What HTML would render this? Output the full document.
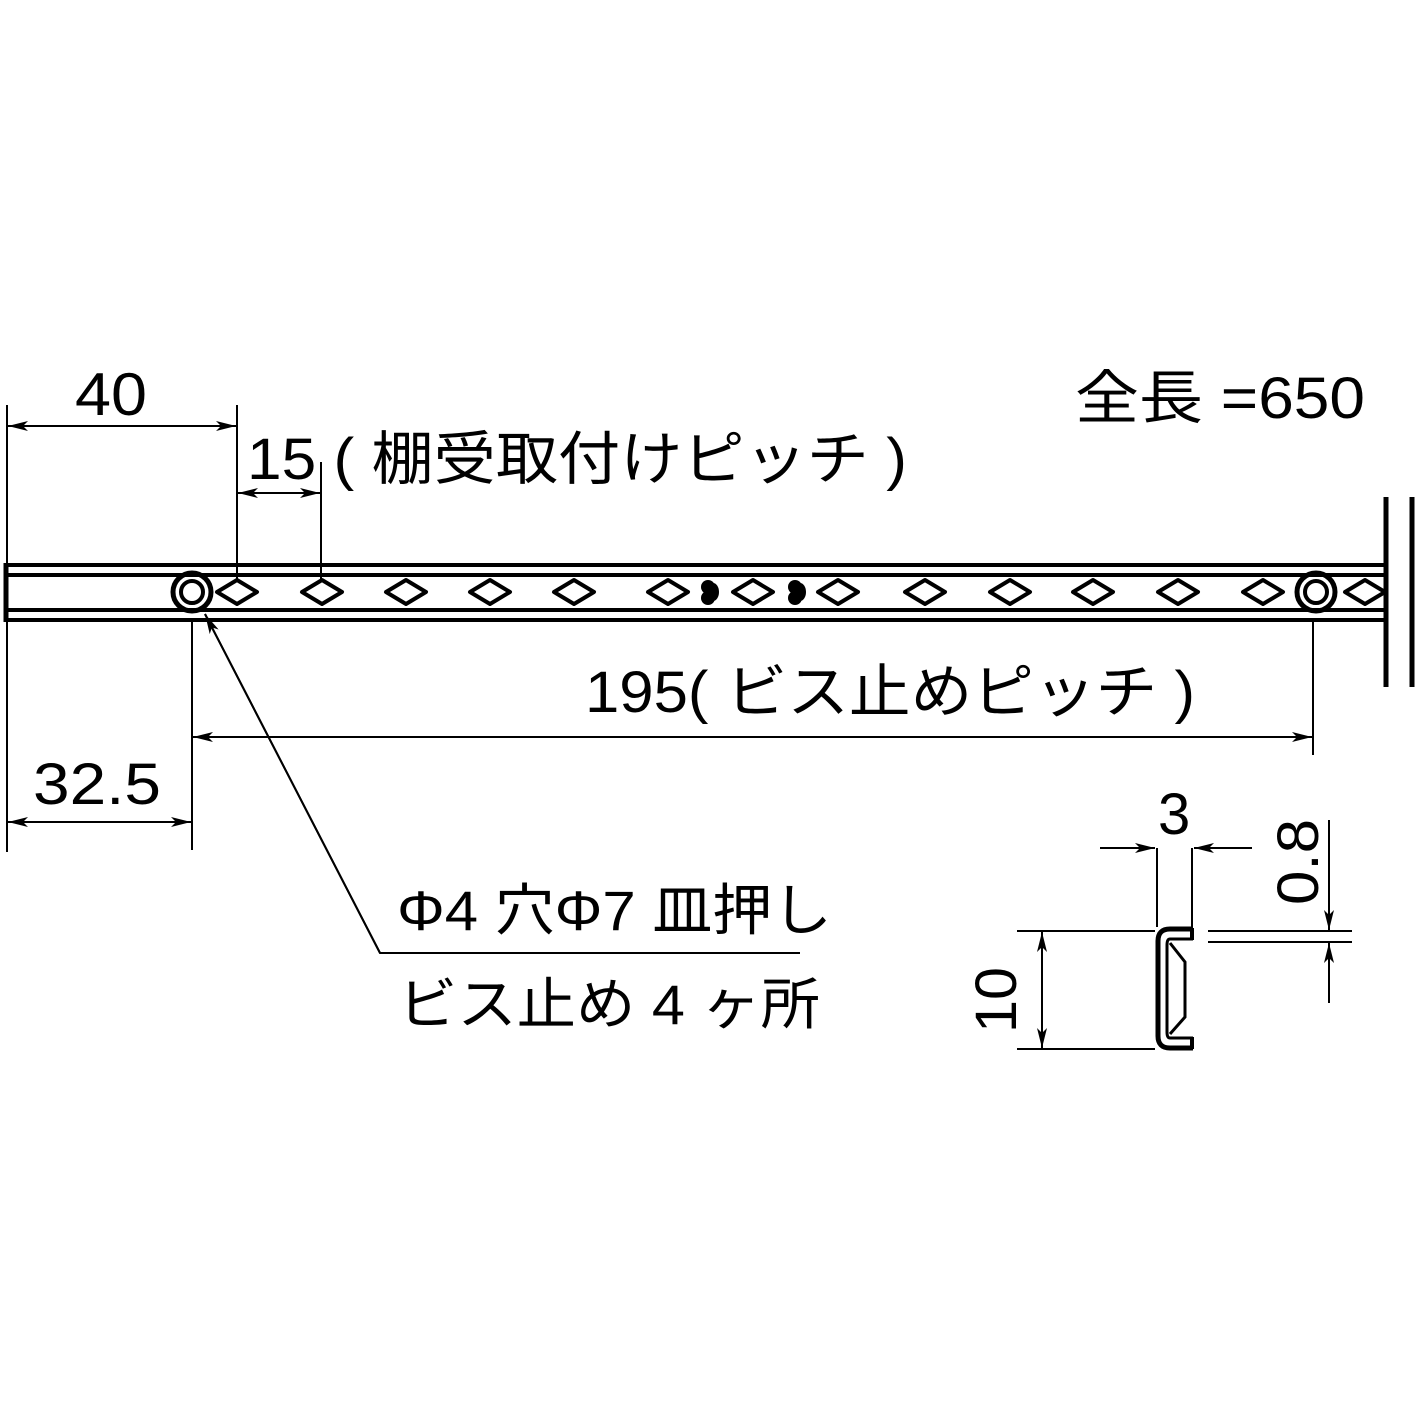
<!DOCTYPE html>
<html><head><meta charset="utf-8"><style>
html,body{margin:0;padding:0;background:#fff;}
svg{display:block;}
text{font-family:"Liberation Sans","Noto Sans CJK JP",sans-serif;fill:#000;}
</style></head><body>
<svg width="1416" height="1416" viewBox="0 0 1416 1416" xmlns="http://www.w3.org/2000/svg">
<defs>
<marker id="a" viewBox="0 0 20 10" refX="20" refY="5" markerWidth="20" markerHeight="10" markerUnits="userSpaceOnUse" orient="auto-start-reverse">
<path d="M0,0 L20,5 L0,10 L5,5 Z" fill="#000"/>
</marker>
</defs>
<g stroke="#000" fill="none">
<line x1="6" y1="565" x2="1385" y2="565" stroke-width="4"/>
<line x1="6" y1="575" x2="1385" y2="575" stroke-width="4"/>
<line x1="6" y1="610" x2="1385" y2="610" stroke-width="4"/>
<line x1="6" y1="620" x2="1385" y2="620" stroke-width="4"/>
<line x1="6" y1="563" x2="6" y2="622" stroke-width="5"/>
<line x1="1386" y1="497" x2="1386" y2="687" stroke-width="5"/>
<line x1="1412" y1="497" x2="1412" y2="687" stroke-width="5"/>
<g stroke-width="4" stroke-linejoin="round">
<path d="M217,592 L237,580 L257,592 L237,604 Z"/>
<path d="M302,592 L322,580 L342,592 L322,604 Z"/>
<path d="M386,592 L406,580 L426,592 L406,604 Z"/>
<path d="M470,592 L490,580 L510,592 L490,604 Z"/>
<path d="M554,592 L574,580 L594,592 L574,604 Z"/>
<path d="M648,592 L668,580 L688,592 L668,604 Z"/>
<path d="M733,592 L753,580 L773,592 L753,604 Z"/>
<path d="M818,592 L838,580 L858,592 L838,604 Z"/>
<path d="M905,592 L925,580 L945,592 L925,604 Z"/>
<path d="M990,592 L1010,580 L1030,592 L1010,604 Z"/>
<path d="M1073,592 L1093,580 L1113,592 L1093,604 Z"/>
<path d="M1158,592 L1178,580 L1198,592 L1178,604 Z"/>
<path d="M1243,592 L1263,580 L1283,592 L1263,604 Z"/>
<path d="M1345,592 L1365,580 L1385,592 L1365,604 Z"/>
</g>
<circle cx="192" cy="592" r="19" stroke-width="5"/>
<circle cx="192" cy="592" r="11" stroke-width="4"/>
<circle cx="1316" cy="592" r="19" stroke-width="5"/>
<circle cx="1316" cy="592" r="11" stroke-width="4"/>
<line x1="7" y1="405" x2="7" y2="563" stroke-width="2"/>
<line x1="237" y1="405" x2="237" y2="580" stroke-width="2"/>
<line x1="8" y1="426" x2="236" y2="426" stroke-width="2" marker-start="url(#a)" marker-end="url(#a)"/>
<line x1="321" y1="462" x2="321" y2="580" stroke-width="2"/>
<line x1="238" y1="493" x2="320" y2="493" stroke-width="2" marker-start="url(#a)" marker-end="url(#a)"/>
<line x1="192" y1="622" x2="192" y2="850" stroke-width="2"/>
<line x1="1313" y1="622" x2="1313" y2="755" stroke-width="2"/>
<line x1="193" y1="737" x2="1312" y2="737" stroke-width="2" marker-start="url(#a)" marker-end="url(#a)"/>
<line x1="7" y1="622" x2="7" y2="852" stroke-width="2"/>
<line x1="8" y1="822" x2="191" y2="822" stroke-width="2" marker-start="url(#a)" marker-end="url(#a)"/>
<polyline points="800,953 380,953 205,614" stroke-width="2"/>
<line x1="380" y1="953" x2="205" y2="614" stroke-width="2" marker-end="url(#a)"/>
<path d="M1193,929 L1170,929 Q1158,929 1158,941 L1158,1036 Q1158,1048 1170,1048 L1193,1048" stroke-width="5"/>
<path d="M1193,939 L1170,939 Q1167,939 1167,945 L1167,1032 Q1167,1038 1170,1038 L1193,1038" stroke-width="3"/>
<path d="M1170,943 L1185,962 L1185,1017 L1170,1034" stroke-width="3"/>
<line x1="1192" y1="928" x2="1192" y2="940" stroke-width="4"/>
<line x1="1192" y1="1037" x2="1192" y2="1049" stroke-width="4"/>
<line x1="1157" y1="848" x2="1157" y2="927" stroke-width="2"/>
<line x1="1192" y1="848" x2="1192" y2="927" stroke-width="2"/>
<line x1="1100" y1="848" x2="1155" y2="848" stroke-width="2" marker-end="url(#a)"/>
<line x1="1252" y1="848" x2="1194" y2="848" stroke-width="2" marker-end="url(#a)"/>
<line x1="1017" y1="931" x2="1155" y2="931" stroke-width="2"/>
<line x1="1017" y1="1049" x2="1155" y2="1049" stroke-width="2"/>
<line x1="1042" y1="932" x2="1042" y2="1048" stroke-width="2" marker-start="url(#a)" marker-end="url(#a)"/>
<line x1="1208" y1="931" x2="1352" y2="931" stroke-width="2"/>
<line x1="1208" y1="942" x2="1352" y2="942" stroke-width="2"/>
<line x1="1329" y1="820" x2="1329" y2="930" stroke-width="2" marker-end="url(#a)"/>
<line x1="1329" y1="1003" x2="1329" y2="943" stroke-width="2" marker-end="url(#a)"/>
</g>
<g fill="#000">
<ellipse cx="708" cy="587" rx="7" ry="7"/><ellipse cx="708" cy="598" rx="7" ry="7"/><ellipse cx="713" cy="592" rx="6" ry="9"/>
<ellipse cx="795" cy="587" rx="7" ry="7"/><ellipse cx="795" cy="598" rx="7" ry="7"/><ellipse cx="800" cy="592" rx="6" ry="9"/>
</g>
<text x="75" y="415" font-size="60" textLength="72" lengthAdjust="spacingAndGlyphs">40</text>
<text x="247" y="479" font-size="58" textLength="660" lengthAdjust="spacingAndGlyphs">15 ( 棚受取付けピッチ )</text>
<text x="1075" y="418" font-size="58" textLength="290" lengthAdjust="spacingAndGlyphs">全長 =650</text>
<text x="585" y="712" font-size="58" textLength="610" lengthAdjust="spacingAndGlyphs">195( ビス止めピッチ )</text>
<text x="33" y="804" font-size="58" textLength="128" lengthAdjust="spacingAndGlyphs">32.5</text>
<text x="397" y="930" font-size="56" textLength="435" lengthAdjust="spacingAndGlyphs">Φ4 穴Φ7 皿押し</text>
<text x="398" y="1024" font-size="56" textLength="422" lengthAdjust="spacingAndGlyphs">ビス止め 4 ヶ所</text>
<text x="1158" y="834" font-size="58">3</text>
<text transform="translate(1016,1033) rotate(-90)" font-size="58" textLength="66" lengthAdjust="spacingAndGlyphs">10</text>
<text transform="translate(1318,905) rotate(-90)" font-size="58" textLength="86" lengthAdjust="spacingAndGlyphs">0.8</text>
</svg>
</body></html>
